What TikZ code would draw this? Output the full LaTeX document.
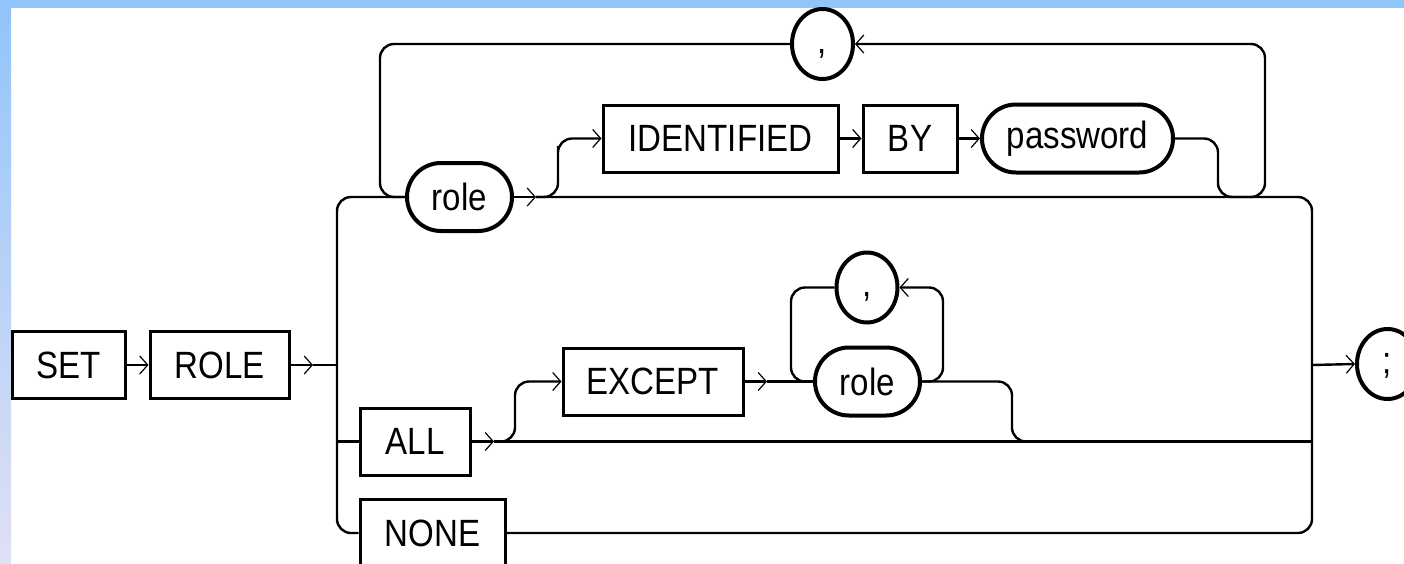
\documentclass[tikz,border=0pt]{standalone}
\usepackage{fontspec}
\setmainfont{Liberation Sans}[FakeStretch=0.87]
\usetikzlibrary{arrows.meta,shapes.geometric,shapes.misc}
\definecolor{bandblue}{RGB}{145,196,250}
\definecolor{bandlilac}{RGB}{224,224,244}

\begin{document}
\begin{tikzpicture}[
x=0.5pt, y=-0.5pt,
font=\fontsize{19pt}{22pt}\selectfont,
kw/.style={rectangle, draw, line width=1.5pt, inner sep=0pt, minimum height=33.5pt},
var/.style={rounded rectangle, draw, line width=2pt, inner sep=0pt, minimum height=34pt},
sep/.style={ellipse, draw, line width=2pt, inner sep=0pt, minimum width=30.5pt, minimum height=35pt,
  text height=13pt, text depth=4pt},
rail/.style={line width=1.2pt, rounded corners=7pt},
arr/.style={rail, -{Straight Barb[length=4pt,width=9pt,line width=0.6pt]}},
]

% frame
\clip (0,0) rectangle (1404,563);
\fill[white] (0,0) rectangle (1404,563);
\fill[bandblue] (0,0) rectangle (1404,8);
\shade[top color=bandblue, bottom color=bandlilac] (0,0) rectangle (11,563);

\node[kw, minimum width=56.5pt] (set) at (68.5,365) {SET};
\node[kw, minimum width=69.5pt] (rolekw) at (219.5,365) {ROLE};
\node[var, minimum width=52.5pt] (role1) at (459.5,197) {role};
\node[sep] (comma1) at (822.5,44) {,};
\node[kw, minimum width=117.5pt] (identified) at (720.5,138.5) {IDENTIFIED};
\node[kw, minimum width=47pt] (by) at (910,138.5) {BY};
\node[var, minimum width=95.5pt] (password) at (1077.5,138.5) {password};
\node[kw, minimum width=55pt] (all) at (415,441.5) {ALL};
\node[kw, minimum width=90pt] (except) at (653,381.5) {EXCEPT};
\node[var, minimum width=52.5pt] (role2) at (867.5,381.5) {role};
\node[sep] (comma2) at (867,287.5) {,};
\node[kw, minimum width=72.5pt] (none) at (432.5,533) {NONE};
\node[sep] (semi) at (1387.5,364) {;};

\coordinate (lt) at (337,365);
\coordinate (ltall) at (337,441.5);
\coordinate (rt) at (1312,365);
\coordinate (rtall) at (1312,441.5);
\coordinate (r1) at (313,365);
\coordinate (m1) at (536,197);
\coordinate (lp) at (380,197);
\coordinate (rj) at (1240,197);
\coordinate (pk) at (1218,197);
\coordinate (rk) at (1265,120);
\coordinate (ik) at (558,160);
\coordinate (a1) at (494,441.5);
\coordinate (ek) at (515,410);
\coordinate (e1) at (767,381.5);
\coordinate (sl) at (791,381.5);
\coordinate (sr) at (943,330);
\coordinate (xk) at (1012,441.5);
\coordinate (xj) at (1030,441.5);

% main rails
\draw[arr] (set) -- (rolekw);
\draw[arr] (rolekw) -- (r1);
\draw[rail] (r1) -- (lt);
\draw[rail] (role1.west) -| (ltall) |- (none.west);
\draw[rail] (ltall) -- (all.west);
\draw[arr] (role1.east) -- (m1);
\draw[rail] (m1) -| (rtall) |- (none.east);
\draw[arr] (rt) -- (semi.west);

% role list
\draw[rail] (comma1.west) -| (lp) -- (role1.west);
\draw[arr] (rj) -| (rk) |- (comma1.east);
\draw[arr] (m1) -| (ik) |- (identified.west);
\draw[arr] (identified) -- (by);
\draw[arr] (by) -- (password);
\draw[rail] (password.east) -| (pk) -- (rj);

% ALL EXCEPT
\draw[arr] (all.east) -- (a1);
\draw[rail] (a1) -- (rtall);
\draw[arr] (a1) -| (ek) |- (except.west);
\draw[arr] (except.east) -- (e1);
\draw[rail] (e1) -- (role2.west);
\draw[rail] (comma2.west) -| (sl) -- (role2.west);
\draw[arr] (role2.east) -| (sr) |- (comma2.east);
\draw[rail] (role2.east) -| (xk) -- (xj);
\end{tikzpicture}
\end{document}
